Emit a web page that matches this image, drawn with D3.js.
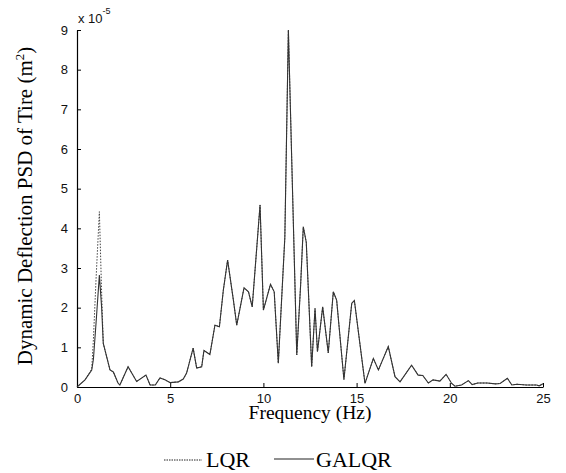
<html>
<head>
<meta charset="utf-8">
<title>Tire Deflection PSD</title>
<style type="text/css">
  body { margin: 0; background: #fff; }
</style>
<script src="https://d3js.org/d3.v7.min.js"></script>
</head>
<body>
<svg width="566" height="473"></svg>
<script>
// frequency grid (Hz) and PSD values (x 1e-5 m^2)
var freq = [0, 0.43, 0.79, 0.88, 1.02, 1.2, 1.32, 1.41, 1.77, 1.95, 2.2, 2.3, 2.74, 3.2, 3.7, 3.92, 4.2, 4.45, 4.72, 5.0,
  5.44, 5.7, 5.88, 6.23, 6.42, 6.69, 6.81, 7.13, 7.4, 7.64, 7.85, 8.08, 8.39, 8.57, 8.96, 9.2, 9.4, 9.82, 10.0, 10.38,
  10.58, 10.8, 11.15, 11.34, 11.79, 12.0, 12.14, 12.3, 12.59, 12.77, 12.9, 13.18, 13.48, 13.75, 13.93, 14.32, 14.74, 14.88, 15.45, 15.9,
  16.17, 16.7, 17.06, 17.33, 17.95, 18.3, 18.55, 18.85, 19.1, 19.47, 19.8, 20.1, 20.28, 20.63, 21.0, 21.2, 21.5, 22.0, 22.45, 22.7,
  23.09, 23.33, 23.6, 24.1, 24.65, 24.8, 25];
var galqr = [0, 0.18, 0.43, 0.7, 1.6, 2.82, 2.02, 1.1, 0.43, 0.38, 0.1, 0.05, 0.51, 0.14, 0.3, 0.05, 0.05, 0.23, 0.18, 0.11,
  0.13, 0.2, 0.35, 0.98, 0.48, 0.51, 0.92, 0.82, 1.56, 1.52, 2.44, 3.2, 2.19, 1.56, 2.5, 2.4, 2.02, 4.59, 1.94, 2.59,
  2.4, 0.6, 3.77, 9.0, 0.81, 2.6, 4.04, 3.65, 0.51, 1.98, 0.89, 2.02, 0.86, 2.4, 2.19, 0.19, 2.11, 2.18, 0.09, 0.72,
  0.43, 1.02, 0.26, 0.13, 0.55, 0.3, 0.29, 0.1, 0.18, 0.15, 0.32, 0.09, 0.02, 0.05, 0.16, 0.06, 0.1, 0.1, 0.08, 0.09,
  0.22, 0.05, 0.07, 0.05, 0.05, 0.03, 0.08];
var lqr = [0, 0.18, 0.45, 1.2, 2.7, 4.42, 2.4, 1.1, 0.43, 0.38, 0.1, 0.05, 0.51, 0.14, 0.3, 0.05, 0.05, 0.23, 0.18, 0.11,
  0.13, 0.2, 0.35, 0.98, 0.48, 0.51, 0.92, 0.82, 1.56, 1.52, 2.44, 3.2, 2.19, 1.56, 2.5, 2.4, 2.02, 4.59, 1.94, 2.59,
  2.4, 0.6, 3.77, 9.0, 0.81, 2.6, 4.04, 3.65, 0.51, 1.98, 0.89, 2.02, 0.86, 2.4, 2.19, 0.19, 2.11, 2.18, 0.09, 0.72,
  0.43, 1.02, 0.26, 0.13, 0.55, 0.3, 0.29, 0.1, 0.18, 0.15, 0.32, 0.09, 0.02, 0.05, 0.16, 0.06, 0.1, 0.1, 0.08, 0.09,
  0.22, 0.05, 0.07, 0.05, 0.05, 0.03, 0.08];
var xTicks = [0, 5, 10, 15, 20, 25];
var yTicks = [0, 1, 2, 3, 4, 5, 6, 7, 8, 9];

var svg = d3.select("svg"),
    margin = {top: 30, right: 23, bottom: 86, left: 77},
    width = +svg.attr("width") - margin.left - margin.right,
    height = +svg.attr("height") - margin.top - margin.bottom,
    g = svg.append("g").attr("transform", `translate(${margin.left},${margin.top})`);

var x = d3.scaleLinear().domain([0, 25]).range([0, width]);
var y = d3.scaleLinear().domain([0, 9]).range([height, 0]);

var tickFont = "13px 'Liberation Sans', Arial, sans-serif";
var serif = "'Liberation Serif', 'Times New Roman', serif";

// axes, matlab style: ticks point inward
var xAxis = g.append("g")
    .attr("transform", `translate(0,${height})`)
    .call(d3.axisBottom(x).tickValues(xTicks).tickSizeInner(-4).tickSizeOuter(0).tickPadding(7));
var yAxis = g.append("g")
    .call(d3.axisLeft(y).tickValues(yTicks).tickSizeInner(-4).tickSizeOuter(0).tickPadding(9));
[xAxis, yAxis].forEach(function(a){
  a.select(".domain").attr("stroke", "#000").attr("stroke-width", 1.2);
  a.selectAll(".tick line").attr("stroke", "#000");
  a.selectAll(".tick text").style("font", tickFont).attr("fill", "#111");
});

var pts = function(vals){ return freq.map((f, i) => [f, vals[i]]); };
var line = d3.line().x(d => x(d[0])).y(d => y(d[1]));

g.append("path")
    .attr("d", line(pts(lqr)))
    .attr("fill", "none")
    .attr("stroke", "#444")
    .attr("stroke-width", 1)
    .attr("stroke-dasharray", "1.5,1.5");
g.append("path")
    .attr("d", line(pts(galqr)))
    .attr("fill", "none")
    .attr("stroke", "#333")
    .attr("stroke-width", 1.1);

// exponent label
var ex = svg.append("text")
    .attr("x", 78).attr("y", 23)
    .style("font", tickFont).attr("fill", "#111");
ex.append("tspan").text("x 10");
ex.append("tspan").attr("dy", -9).style("font-size", "9px").text("-5");

// axis titles
svg.append("text")
    .attr("x", margin.left + width / 2).attr("y", 419)
    .attr("text-anchor", "middle")
    .style("font", "19.5px " + serif)
    .text("Frequency (Hz)");

var yl = svg.append("text")
    .attr("transform", "translate(32,206) rotate(-90)")
    .attr("text-anchor", "middle")
    .style("font", "21px " + serif);
yl.append("tspan").text("Dynamic Deflection PSD of Tire (m");
yl.append("tspan").attr("dy", -8).style("font-size", "13px").text("2");
yl.append("tspan").attr("dy", 8).text(")");

// legend
var leg = svg.append("g").style("font", "22px " + serif);
leg.append("line").attr("x1", 164).attr("x2", 202).attr("y1", 460).attr("y2", 460)
    .attr("stroke", "#222").attr("stroke-dasharray", "1.5,1");
leg.append("text").attr("x", 206).attr("y", 467).text("LQR");
leg.append("line").attr("x1", 274).attr("x2", 314).attr("y1", 459).attr("y2", 459)
    .attr("stroke", "#222").attr("stroke-width", 1.2);
leg.append("text").attr("x", 316).attr("y", 467).text("GALQR");
</script>
</body>
</html>
